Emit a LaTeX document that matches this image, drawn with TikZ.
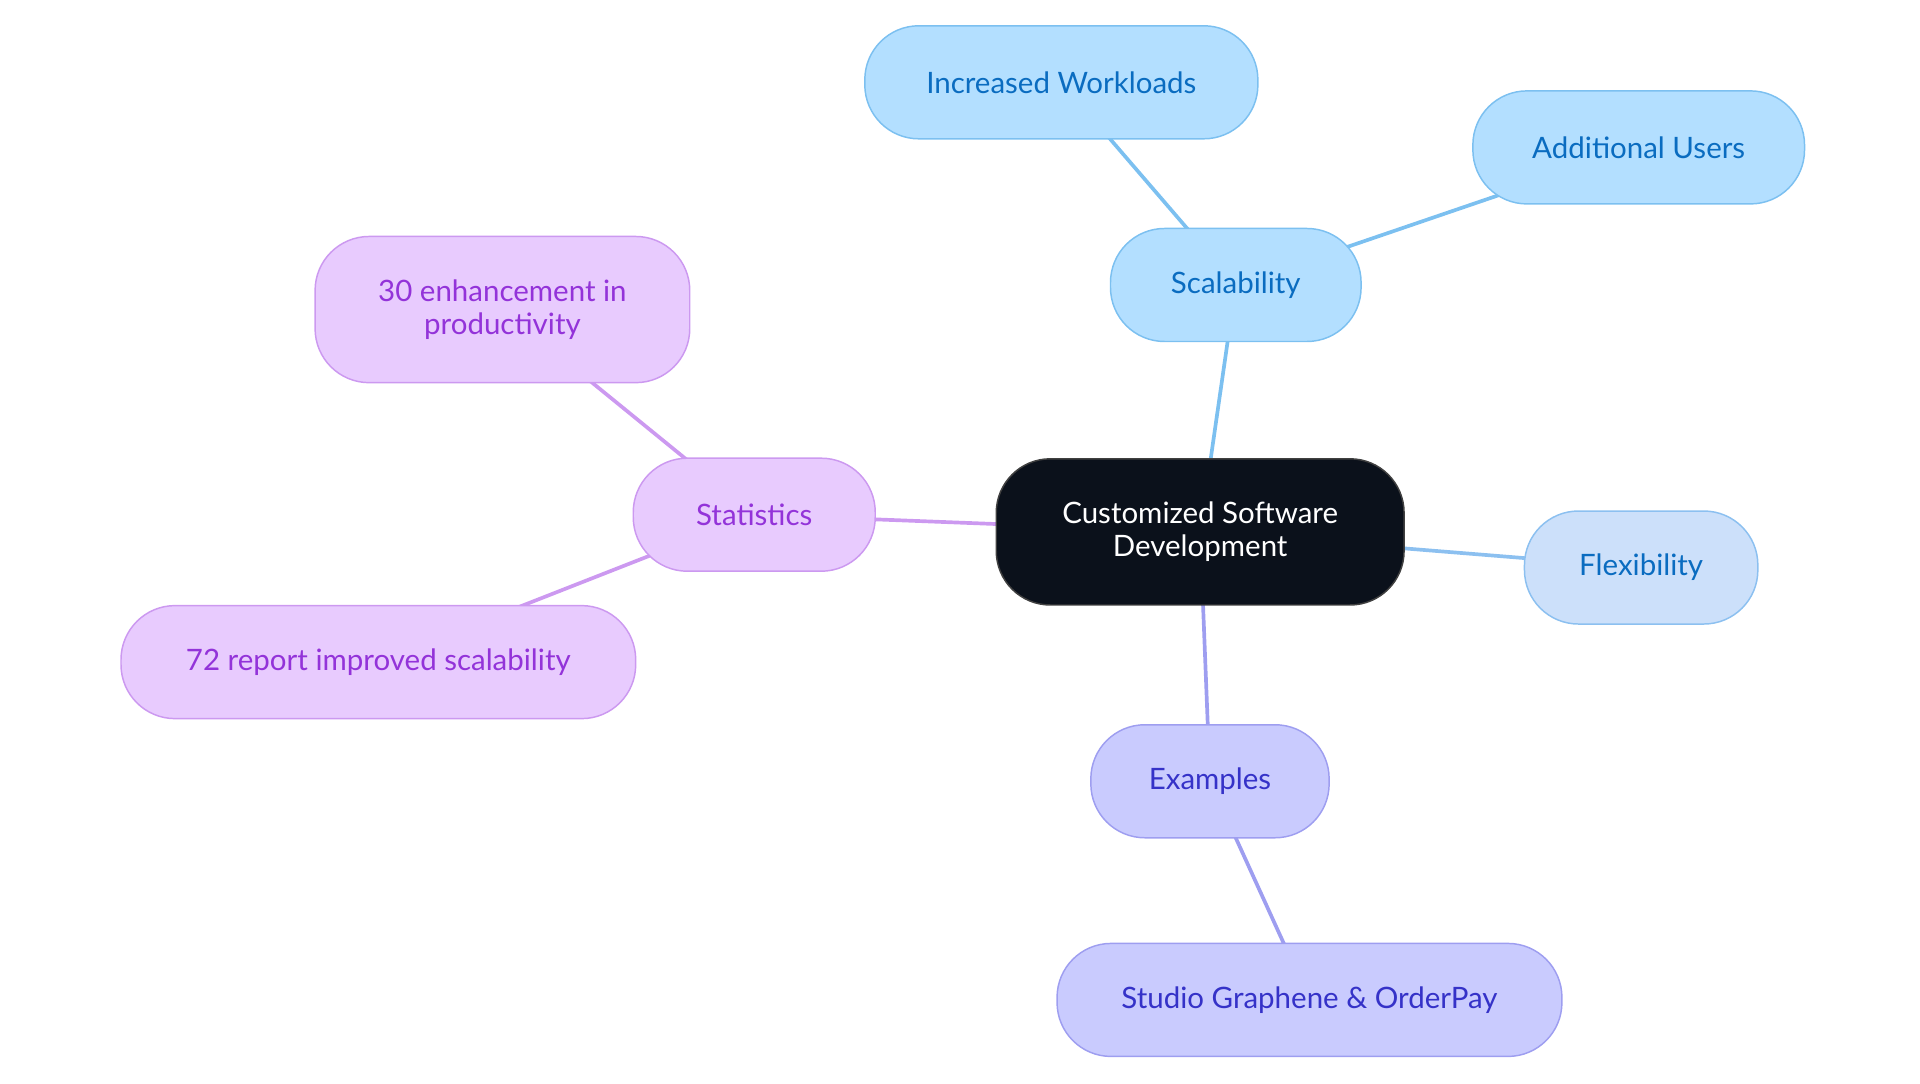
\documentclass[tikz,border=0pt]{standalone}
\usepackage{fontspec}
\setmainfont{Lato}
\usetikzlibrary{backgrounds}
\definecolor{bfill}{HTML}{B3DFFF}\definecolor{bline}{HTML}{7CC0F0}\definecolor{btext}{HTML}{0A6CC0}
\definecolor{ffill}{HTML}{CCE0FA}\definecolor{fline}{HTML}{8CC0F0}
\definecolor{pfill}{HTML}{E8CBFE}\definecolor{pline}{HTML}{CC99F0}\definecolor{ptext}{HTML}{9333D9}
\definecolor{ifill}{HTML}{C9CBFE}\definecolor{iline}{HTML}{9E9EF0}\definecolor{itext}{HTML}{3532C8}
\definecolor{cfill}{HTML}{0B111B}
\begin{document}
\begin{tikzpicture}[x=1pt,y=-1pt,
 box/.style={rounded corners=44pt,draw,line width=1.2pt,align=center,inner sep=0pt,font=\fontsize{24}{27}\selectfont},
 blue/.style={box,fill=bfill,draw=bline,text=btext},
 flex/.style={box,fill=ffill,draw=fline,text=btext},
 purp/.style={box,fill=pfill,draw=pline,text=ptext},
 indi/.style={box,fill=ifill,draw=iline,text=itext},
 con/.style={line width=3pt}]
\useasboundingbox (0,0) rectangle (1563,882);
\node[box,fill=cfill,draw=black!75,text=white,minimum width=332pt,minimum height=119pt] (c) at (977,433) {Customized Software\\Development};
\node[blue,minimum width=204pt,minimum height=92pt] (s) at (1006,232) {Scalability};
\node[blue,minimum width=320pt,minimum height=92pt] (iw) at (864,67) {Increased Workloads};
\node[blue,minimum width=270pt,minimum height=92pt] (au) at (1334,120) {Additional Users};
\node[flex,minimum width=190pt,minimum height=92pt] (f) at (1336,462) {Flexibility};
\node[purp,minimum width=197pt,minimum height=92pt] (st) at (614,419) {Statistics};
\node[purp,minimum width=305pt,minimum height=119pt] (e30) at (409,252) {30 enhancement in\\productivity};
\node[purp,minimum width=419pt,minimum height=92pt] (r72) at (308,539) {72 report improved scalability};
\node[indi,minimum width=194pt,minimum height=92pt] (ex) at (985,636) {Examples};
\node[indi,minimum width=411pt,minimum height=92pt] (sg) at (1066,814) {Studio Graphene \& OrderPay};
\begin{scope}[on background layer]
\draw[con,bline] (c.center) -- (s.center);
\draw[con,bline] (s.center) -- (iw.center);
\draw[con,bline] (s.center) -- (au.center);
\draw[con,fline] (c.center) -- (f.center);
\draw[con,pline] (c.center) -- (st.center);
\draw[con,pline] (st.center) -- (e30.center);
\draw[con,pline] (st.center) -- (r72.center);
\draw[con,iline] (c.center) -- (ex.center);
\draw[con,iline] (ex.center) -- (sg.center);
\end{scope}
\end{tikzpicture}
\end{document}
